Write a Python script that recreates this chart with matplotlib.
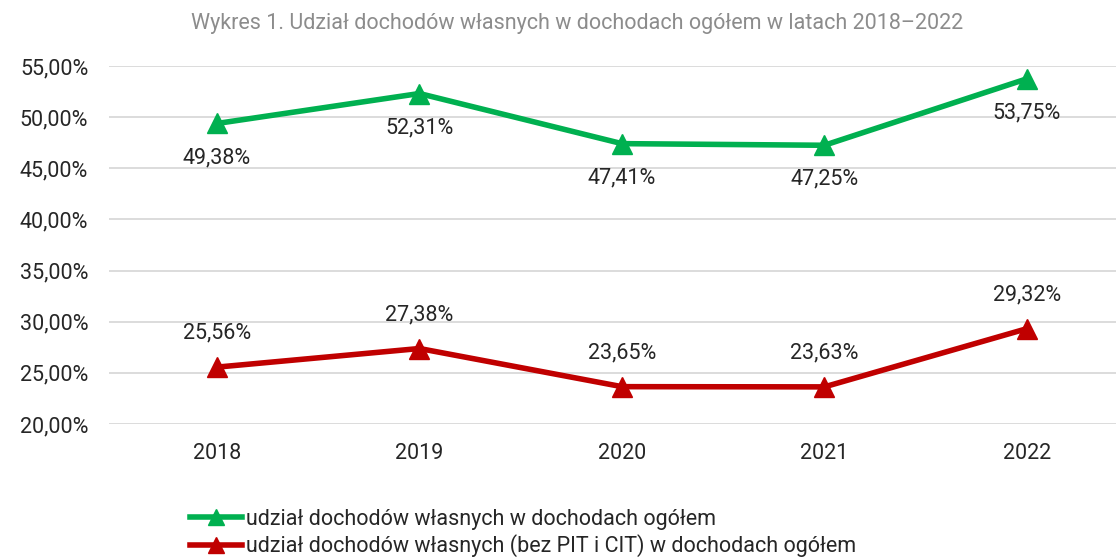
import matplotlib
matplotlib.use('Agg')
import matplotlib.pyplot as plt
from matplotlib.lines import Line2D

plt.rcParams['font.family'] = ['Roboto', 'DejaVu Sans']

years = ['2018', '2019', '2020', '2021', '2022']
own_share = [49.38, 52.31, 47.41, 47.25, 53.75]
own_share_no_pit_cit = [25.56, 27.38, 23.65, 23.63, 29.32]
series_labels = ['udział dochodów własnych w dochodach ogółem',
                 'udział dochodów własnych (bez PIT i CIT) w dochodach ogółem']
yticks = [20, 25, 30, 35, 40, 45, 50, 55]
title = 'Wykres 1. Udział dochodów własnych w dochodach ogółem w latach 2018–2022'

green = '#00B050'
red = '#C00000'
text_col = '#262626'
fs = 15.5


def pl(v, dec=2):
    return f'{v:.{dec}f}'.replace('.', ',') + '%'


fig = plt.figure(figsize=(11.16, 5.59), dpi=100)
ax = fig.add_axes([109 / 1116, 1 - 424 / 559, 1 - 109 / 1116, (424 - 66) / 559])

x = list(range(len(years)))
ax.plot(x, own_share, color=green, lw=4, marker='^', markersize=15,
        zorder=3)
ax.plot(x, own_share_no_pit_cit, color=red, lw=4, marker='^', markersize=15,
        zorder=3)

# data labels: green below the points, red above
for xi, v in zip(x, own_share):
    ax.annotate(pl(v), (xi, v), xytext=(0, -24.5), textcoords='offset points',
                ha='center', va='center', fontsize=fs, color=text_col)
for xi, v in zip(x, own_share_no_pit_cit):
    ax.annotate(pl(v), (xi, v), xytext=(0, 24.5), textcoords='offset points',
                ha='center', va='center', fontsize=fs, color=text_col)

ax.set_xlim(-0.533, 4.44)
ax.set_ylim(20, 55)
ax.set_yticks(yticks)
ax.set_yticklabels([pl(t) for t in yticks])
ax.set_xticks(x)
ax.set_xticklabels(years)
ax.tick_params(axis='both', length=0, labelsize=fs, labelcolor=text_col)
ax.tick_params(axis='y', pad=15)
ax.tick_params(axis='x', pad=13.5)

ax.grid(axis='y', color='#d9d9d9', lw=1.3)
ax.set_axisbelow(True)
for s in ax.spines.values():
    s.set_visible(False)

fig.text(577 / 1116, 1 - 24 / 559, title, ha='center', va='center',
         fontsize=15.5, color='#8c8c8c')

handles = [Line2D([], [], color=green, lw=4, marker='^', markersize=11),
           Line2D([], [], color=red, lw=4, marker='^', markersize=11)]
fig.legend(handles, series_labels, loc='upper left',
           bbox_to_anchor=(190 / 1116, 1 - 509 / 559), frameon=False,
           handlelength=2.4, handletextpad=0.2,
           labelspacing=0.2, borderaxespad=0, borderpad=0,
           labelcolor=text_col, prop={'size': fs})

fig.savefig('out.png', dpi=100)
